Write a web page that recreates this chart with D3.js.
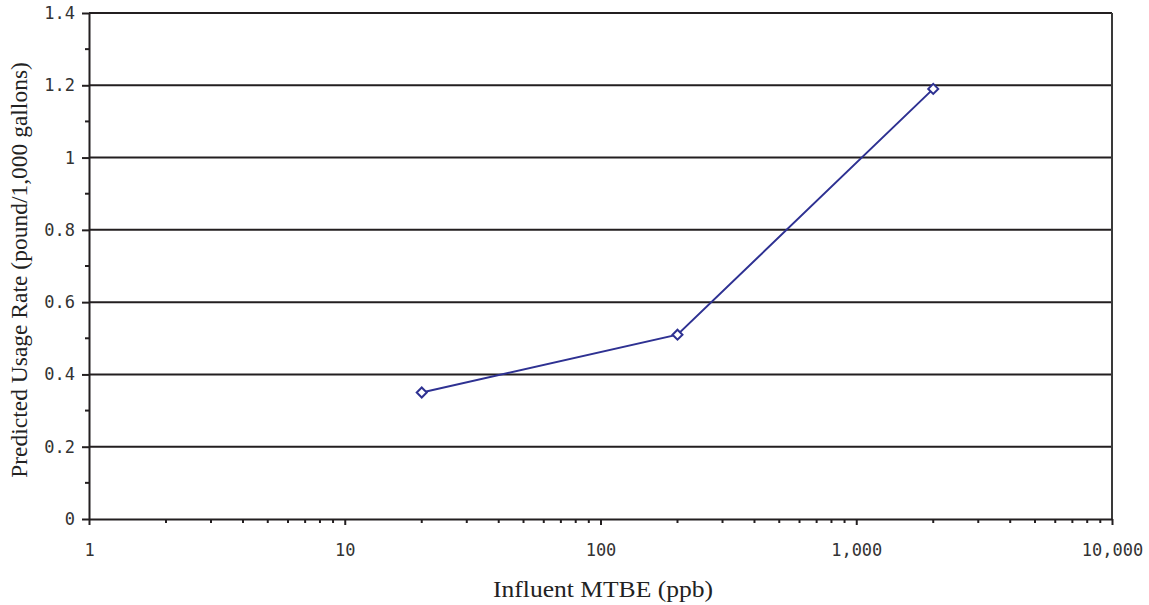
<!DOCTYPE html>
<html lang="en">
<head>
<title>MTBE Usage Rate</title>
<script src="https://d3js.org/d3.v7.min.js"></script>
<style>
  body { margin: 0; background: #fff; }
</style>
</head>
<body>
<div id="chart"></div>
<script>
// data
var influent = [20, 200, 2000];
var usageRate = [0.35, 0.51, 1.19];
var xTickValues = [1, 10, 100, 1000, 10000];
var xTickLabels = ["1", "10", "100", "1,000", "10,000"];
var yTickValues = [0, 0.2, 0.4, 0.6, 0.8, 1, 1.2, 1.4];
var yTickLabels = ["0", "0.2", "0.4", "0.6", "0.8", "1", "1.2", "1.4"];

var width = 1149, height = 605;
var margin = {left: 89, right: 37, top: 13, bottom: 86};
var w = width - margin.left - margin.right;
var h = height - margin.top - margin.bottom;

var svg = d3.select("#chart").append("svg")
  .attr("width", width)
  .attr("height", height);

var g = svg.append("g")
  .attr("transform", "translate(" + margin.left + "," + margin.top + ")");

var x = d3.scaleLog().domain([1, 10000]).range([0, w]);
var y = d3.scaleLinear().domain([0, 1.4]).range([h, 0]);

var lineColor = "#231f20";
var tickFont = "'DejaVu Sans Mono', monospace";

// horizontal gridlines
g.selectAll("line.grid")
  .data(yTickValues.slice(1))
  .enter().append("line")
  .attr("class", "grid")
  .attr("x1", 0).attr("x2", w)
  .attr("y1", function(d) { return y(d); })
  .attr("y2", function(d) { return y(d); })
  .attr("stroke", lineColor)
  .attr("stroke-width", 2);

// right border
g.append("line")
  .attr("x1", w).attr("x2", w)
  .attr("y1", 0).attr("y2", h)
  .attr("stroke", "#3a3a3a")
  .attr("stroke-width", 2);

// y minor ticks
var yMinor = d3.range(1, 14, 2).map(function(d) { return d / 10; });
g.selectAll("line.yminor")
  .data(yMinor)
  .enter().append("line")
  .attr("class", "yminor")
  .attr("x1", -4).attr("x2", 0)
  .attr("y1", function(d) { return y(d); })
  .attr("y2", function(d) { return y(d); })
  .attr("stroke", lineColor)
  .attr("stroke-width", 2);

// x minor ticks
var xMinor = [];
[1, 10, 100, 1000].forEach(function(dec) {
  for (var k = 2; k <= 9; k++) xMinor.push(dec * k);
});
g.selectAll("line.xminor")
  .data(xMinor)
  .enter().append("line")
  .attr("class", "xminor")
  .attr("x1", function(d) { return x(d); })
  .attr("x2", function(d) { return x(d); })
  .attr("y1", h).attr("y2", h + 4)
  .attr("stroke", lineColor)
  .attr("stroke-width", 2);

// y axis
var yAxis = g.append("g")
  .call(d3.axisLeft(y).tickValues(yTickValues).tickSize(7).tickSizeOuter(0)
    .tickFormat(function(d, i) { return yTickLabels[i]; }));
yAxis.select(".domain").attr("stroke", lineColor).attr("stroke-width", 2);
yAxis.selectAll(".tick line").attr("stroke", lineColor).attr("stroke-width", 2);
yAxis.selectAll(".tick text")
  .attr("x", -14)
  .attr("font-family", tickFont)
  .attr("font-size", 17)
  .attr("fill", "#333");

// x axis
var xAxis = g.append("g")
  .attr("transform", "translate(0," + h + ")")
  .call(d3.axisBottom(x).tickValues(xTickValues).tickSize(6).tickSizeOuter(0)
    .tickFormat(function(d, i) { return xTickLabels[i]; }));
xAxis.select(".domain").attr("stroke", lineColor).attr("stroke-width", 2);
xAxis.selectAll(".tick line").attr("stroke", lineColor).attr("stroke-width", 2);
xAxis.selectAll(".tick text")
  .attr("y", 25)
  .attr("font-family", tickFont)
  .attr("font-size", 17)
  .attr("fill", "#333");

// data line
var pts = influent.map(function(d, i) { return [d, usageRate[i]]; });
g.append("path")
  .datum(pts)
  .attr("fill", "none")
  .attr("stroke", "#2e3192")
  .attr("stroke-width", 2)
  .attr("d", d3.line()
    .x(function(d) { return x(d[0]); })
    .y(function(d) { return y(d[1]); }));

g.selectAll("path.marker")
  .data(pts)
  .enter().append("path")
  .attr("class", "marker")
  .attr("d", "M0,-5L5,0L0,5L-5,0Z")
  .attr("transform", function(d) { return "translate(" + x(d[0]) + "," + y(d[1]) + ")"; })
  .attr("fill", "#fff")
  .attr("stroke", "#2e3192")
  .attr("stroke-width", 2);

// axis titles
svg.append("text")
  .attr("x", 603)
  .attr("y", 597)
  .attr("text-anchor", "middle")
  .attr("font-family", "'Liberation Serif', serif")
  .attr("font-size", 24)
  .attr("textLength", 220)
  .attr("lengthAdjust", "spacingAndGlyphs")
  .attr("fill", "#222")
  .text("Influent MTBE (ppb)");

svg.append("text")
  .attr("transform", "translate(27,270) rotate(-90)")
  .attr("text-anchor", "middle")
  .attr("font-family", "'Liberation Serif', serif")
  .attr("font-size", 23.5)
  .attr("fill", "#222")
  .text("Predicted Usage Rate (pound/1,000 gallons)");
</script>
</body>
</html>
